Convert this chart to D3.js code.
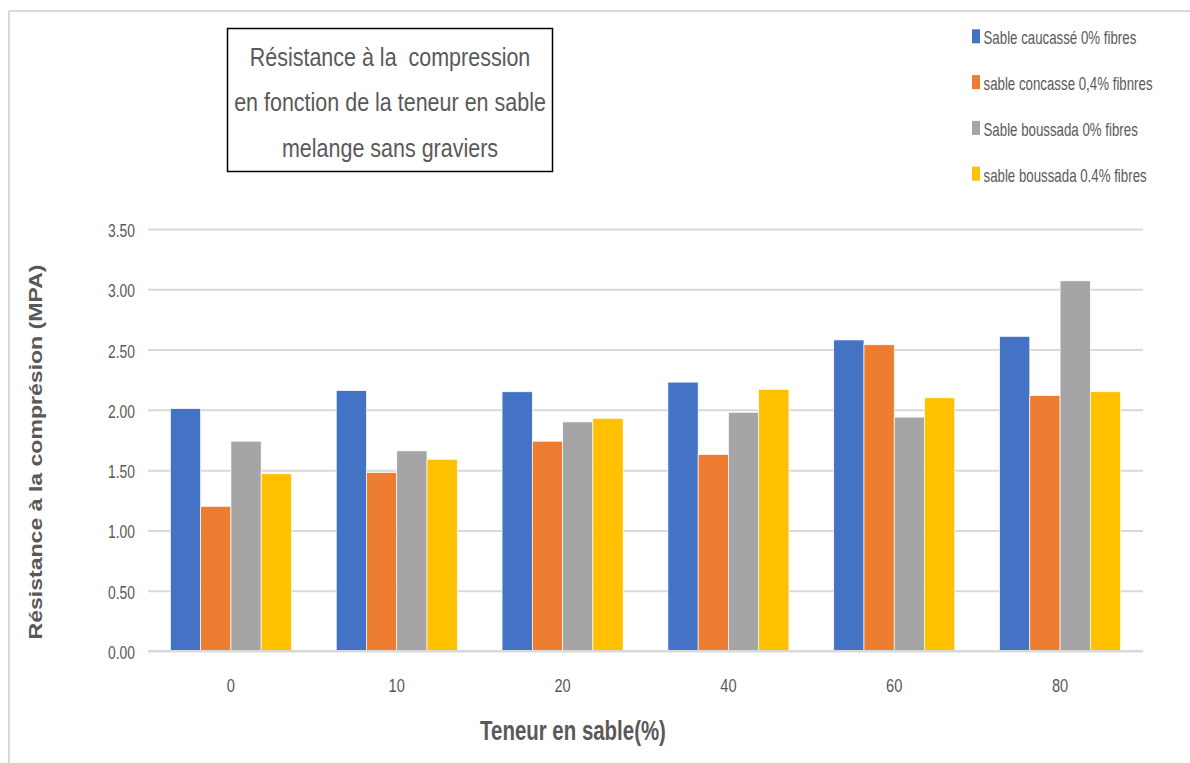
<!DOCTYPE html>
<html>
<head>
<meta charset="utf-8">
<script src="https://cdn.jsdelivr.net/npm/d3@7"></script>
<style>
  html, body { margin: 0; padding: 0; background: #fff; }
  svg { display: block; }
  text { font-family: "Liberation Sans", Arial, sans-serif; }
</style>
</head>
<body>
<svg id="chart" width="1190" height="763"></svg>
<script>
const categories = ["0", "10", "20", "40", "60", "80"];
const seriesNames = [
  "Sable caucassé 0% fibres",
  "sable concasse 0,4% fibnres",
  "Sable boussada 0% fibres",
  "sable boussada 0.4% fibres"
];
const seriesColors = ["#4472C4", "#ED7D31", "#A5A5A5", "#FFC000"];
const caucasse0 = [2.01, 2.16, 2.15, 2.23, 2.58, 2.61];
const concasse04 = [1.20, 1.48, 1.74, 1.63, 2.54, 2.12];
const boussada0 = [1.74, 1.66, 1.90, 1.98, 1.94, 3.07];
const boussada04 = [1.47, 1.59, 1.93, 2.17, 2.10, 2.15];
const yTicks = [0, 0.5, 1.0, 1.5, 2.0, 2.5, 3.0, 3.5];
const titleLines = ["Résistance à la  compression", "en fonction de la teneur en sable", "melange sans graviers"];
const xTitle = "Teneur en sable(%)";
const yTitle = "Résistance à la comprésion (MPA)";

const seriesValues = [caucasse0, concasse04, boussada0, boussada04];

const svg = d3.select("#chart");
const W = 1190, H = 763;
const plot = { left: 148, right: 1143, top: 229, bottom: 651 };
const TXT = "#595959";

// chart frame (left + top)
svg.append("line").attr("x1", 9).attr("x2", 9).attr("y1", 11).attr("y2", H)
  .attr("stroke", "#d9d9d9").attr("stroke-width", 2);
svg.append("line").attr("x1", 9).attr("x2", W).attr("y1", 11).attr("y2", 11)
  .attr("stroke", "#d9d9d9").attr("stroke-width", 2);

const x0 = d3.scaleBand().domain(categories).range([plot.left, plot.right])
  .paddingInner(0.27).paddingOuter(0.135);
const x1 = d3.scaleBand().domain(d3.range(seriesNames.length)).range([0, x0.bandwidth()]);
const y = d3.scaleLinear().domain([0, 3.5]).range([plot.bottom, plot.top]);

// gridlines + y tick labels
const yAxis = d3.axisLeft(y).tickValues(yTicks).tickSize(-(plot.right - plot.left))
  .tickFormat(d3.format(".2f"));
const gy = svg.append("g").attr("transform", `translate(${plot.left},0)`).call(yAxis);
gy.select(".domain").remove();
gy.selectAll(".tick line").attr("stroke", "#d9d9d9").attr("stroke-width", 2);
gy.selectAll(".tick text")
  .attr("x", null).attr("dy", null)
  .attr("text-anchor", "end")
  .attr("transform", "translate(-13,7.5) scale(0.77,1)")
  .attr("font-family", "Liberation Sans, Arial, sans-serif")
  .attr("fill", TXT).attr("font-size", 18);

// bars
const groups = svg.append("g").selectAll("g").data(categories).join("g")
  .attr("transform", d => `translate(${x0(d)},0)`);
groups.selectAll("rect")
  .data((c, ci) => seriesValues.map((vals, si) => ({ si, v: vals[ci] })))
  .join("rect")
  .attr("x", d => x1(d.si))
  .attr("width", x1.bandwidth())
  .attr("y", d => y(d.v))
  .attr("height", d => y(0) - y(d.v))
  .attr("fill", d => seriesColors[d.si])
  .attr("stroke", "#fff").attr("stroke-width", 0.7);

// x axis
const xAxis = d3.axisBottom(x0).tickSize(0);
const gx = svg.append("g").attr("transform", `translate(0,${plot.bottom})`).call(xAxis);
gx.select(".domain").attr("stroke", "#d9d9d9").attr("stroke-width", 2)
  .attr("d", `M${plot.left},0H${plot.right}`);
gx.selectAll(".tick text")
  .attr("y", null).attr("dy", null)
  .attr("text-anchor", "middle")
  .attr("transform", "translate(0,40.5) scale(0.77,1)")
  .attr("font-family", "Liberation Sans, Arial, sans-serif")
  .attr("fill", TXT).attr("font-size", 19);

// axis titles
svg.append("text")
  .attr("transform", "translate(573,740) scale(0.73,1)")
  .attr("text-anchor", "middle")
  .attr("font-size", 28).attr("font-weight", "bold").attr("fill", TXT)
  .text(xTitle);
svg.append("text")
  .attr("transform", "translate(42,452) rotate(-90)")
  .attr("text-anchor", "middle")
  .attr("font-family", "'Open Sans', 'DejaVu Sans', sans-serif")
  .attr("font-size", 19).attr("font-weight", "bold").attr("fill", TXT)
  .attr("textLength", 375).attr("lengthAdjust", "spacingAndGlyphs")
  .text(yTitle);

// title box
svg.append("rect").attr("x", 227.5).attr("y", 28.5).attr("width", 325).attr("height", 143)
  .attr("fill", "#fff").attr("stroke", "#000").attr("stroke-width", 1.5);
svg.append("g").selectAll("text").data(titleLines).join("text")
  .attr("transform", (d, i) => `translate(390,${66 + i * 45.3}) scale(0.86,1)`)
  .attr("text-anchor", "middle").attr("font-size", 25).attr("fill", TXT)
  .style("white-space", "pre")
  .text(d => d);

// legend
const leg = svg.append("g").selectAll("g").data(seriesNames).join("g")
  .attr("transform", (d, i) => `translate(972,${44.3 + i * 45.8})`);
leg.append("rect").attr("x", 0).attr("y", -15).attr("width", 8).attr("height", 14)
  .attr("fill", (d, i) => seriesColors[i]);
leg.append("text")
  .attr("transform", "translate(11.5,0) scale(0.70,1)")
  .attr("font-size", 19).attr("fill", TXT)
  .text(d => d);
</script>
</body>
</html>
